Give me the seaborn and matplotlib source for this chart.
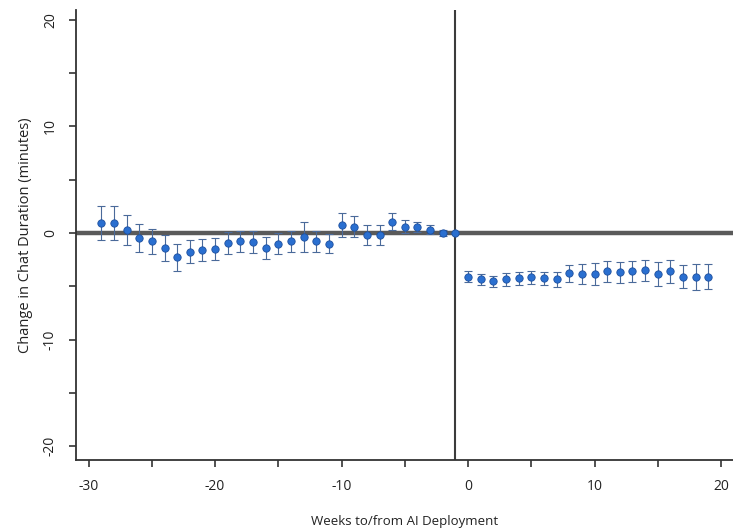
import numpy as np
import pandas as pd
import matplotlib
matplotlib.use("Agg")
import matplotlib.pyplot as plt
import seaborn as sns

# event-study estimates
weeks = list(range(-29, 20))
coef = [0.95, 0.95, 0.3, -0.5, -0.8, -1.4, -2.3, -1.75, -1.6, -1.5,
        -0.95, -0.8, -0.85, -1.4, -1.0, -0.8, -0.4, -0.8, -1.0, 0.75,
        0.6, -0.2, -0.2, 1.05, 0.6, 0.55, 0.3, 0.0, 0.0,
        -4.1, -4.35, -4.55, -4.35, -4.25, -4.15, -4.25, -4.35, -3.8, -3.85,
        -3.85, -3.6, -3.7, -3.6, -3.5, -3.85, -3.6, -4.1, -4.15, -4.1]
ci_half = [1.6, 1.6, 1.4, 1.3, 1.2, 1.2, 1.3, 1.1, 1.0, 1.0,
           1.0, 1.0, 1.0, 1.0, 1.0, 1.0, 1.4, 1.0, 0.9, 1.1,
           1.0, 0.9, 0.9, 0.8, 0.6, 0.5, 0.4, 0.3, 0.0,
           0.5, 0.5, 0.5, 0.6, 0.6, 0.6, 0.6, 0.7, 0.8, 0.9,
           1.0, 1.0, 1.0, 1.0, 1.0, 1.1, 1.1, 1.1, 1.2, 1.2]

x_major = [-30, -20, -10, 0, 10, 20]
y_major = [-20, -10, 0, 10, 20]

df = pd.DataFrame({"week": weeks, "coef": coef, "ci": ci_half})

sns.set_style("white")
plt.rcParams["font.family"] = ["Open Sans", "DejaVu Sans"]
plt.rcParams["axes.unicode_minus"] = False

fig = plt.figure(figsize=(7.33, 5.30), dpi=100)
ax = fig.add_axes([0.1037, 0.132, 0.8963, 0.849])

ax.axhline(0, color="#5a5a5a", lw=3.2, zorder=1)
ax.axvline(-1, color="#3c3c3c", lw=1.5, zorder=1)

ax.errorbar(df["week"], df["coef"], yerr=df["ci"], fmt="none",
            ecolor="#4a6a9a", elinewidth=0.8, capsize=3, capthick=0.8, zorder=2)
sns.scatterplot(data=df, x="week", y="coef", ax=ax, color="#2a6fd0",
                edgecolor="#1d4f9e", linewidth=0.6, s=28, zorder=3, legend=False)

ax.set_xlim(-31, 20.95)
ax.set_ylim(-21.3, 20.9)
ax.set_xticks(x_major)
ax.set_xticks([-25, -15, -5, 5, 15], minor=True)
ax.set_yticks(y_major)
ax.set_yticks([-15, -5, 5, 15], minor=True)
ax.set_yticklabels([str(v) for v in y_major], rotation=90, va="center")
ax.tick_params(axis="both", which="both", direction="out", length=5, width=1.2,
               color="#333333", labelsize=10, labelcolor="#222222", bottom=True, left=True)
ax.tick_params(axis="x", which="major", pad=9)
ax.tick_params(axis="y", which="major", pad=8)

for side in ["top", "right"]:
    ax.spines[side].set_visible(False)
for side in ["left", "bottom"]:
    ax.spines[side].set_color("#333333")
    ax.spines[side].set_linewidth(1.3)

ax.set_xlabel("Weeks to/from AI Deployment", fontsize=9.5, color="#222222", labelpad=15)
ax.set_ylabel("Change in Chat Duration (minutes)", fontsize=10.5, color="#222222", labelpad=7)

fig.savefig("out.png", dpi=100)
